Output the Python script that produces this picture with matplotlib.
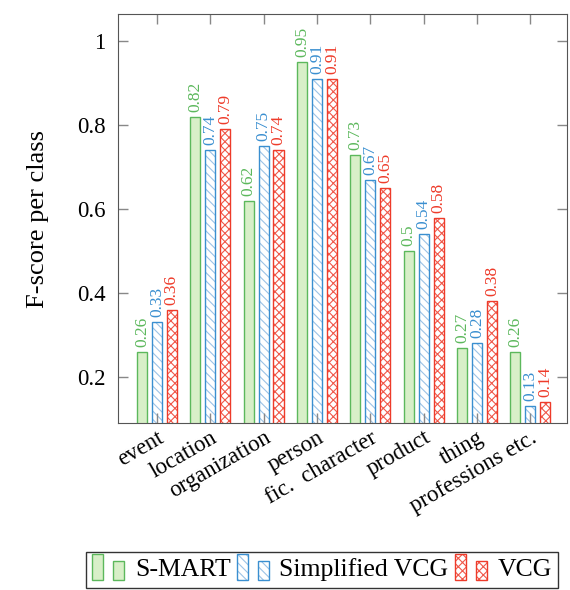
import matplotlib
matplotlib.use("Agg")
import matplotlib.pyplot as plt
import numpy as np
from matplotlib.legend_handler import HandlerBase
from matplotlib.patches import Rectangle

plt.rcParams["font.family"] = ["Liberation Serif", "DejaVu Serif"]
plt.rcParams["hatch.linewidth"] = 0.8

categories = ["event", "location", "organization", "person", "fic.  character",
              "product", "thing", "professions etc."]
smart = [0.26, 0.82, 0.62, 0.95, 0.73, 0.5, 0.27, 0.26]
simplified = [0.33, 0.74, 0.75, 0.91, 0.67, 0.54, 0.28, 0.13]
vcg = [0.36, 0.79, 0.74, 0.91, 0.65, 0.58, 0.38, 0.14]

# name, values, fill, hatch, hatch colour, edge colour
series = [
    ("S-MART", smart, "#d8efc8", None, "#d8efc8", "#5cb85c"),
    ("Simplified VCG", simplified, "white", "\\\\\\\\", "#9cc3e6", "#3a8fd0"),
    ("VCG", vcg, "white", "xxxx", "#f0584a", "#ee3b2a"),
]


class TwoBarHandler(HandlerBase):
    def __init__(self, style):
        super().__init__()
        self.style = style

    def create_artists(self, legend, orig, xd, yd, w, h, fontsize, trans):
        fill, hatch, hcol, ecol = self.style
        arts = []
        for x0, bh in [(0, h * 1.45), (w * 0.58, h * 1.05)]:
            for kw in (dict(facecolor=fill, edgecolor=hcol, hatch=hatch, linewidth=0),
                       dict(facecolor="none", edgecolor=ecol, linewidth=1)):
                arts.append(Rectangle((xd + x0, yd - h * 0.2), w * 0.3, bh,
                                      transform=trans, **kw))
        return arts


fig = plt.figure(figsize=(5.7, 5.9), dpi=100)
ax = fig.add_axes([0.207, 0.283, 0.788, 0.693])

x = np.arange(len(categories))
off = 0.28
width = 0.19
handles = []
hmap = {}
for i, (name, vals, fill, hatch, hcol, ecol) in enumerate(series):
    pos = x + (i - 1) * off
    ax.bar(pos, vals, width, facecolor=fill, edgecolor=hcol, hatch=hatch, linewidth=0)
    bars = ax.bar(pos, vals, width, facecolor="none", edgecolor=ecol, linewidth=1)
    handles.append(bars[0])
    hmap[bars[0]] = TwoBarHandler((fill, hatch, hcol, ecol))
    for p, v in zip(pos, vals):
        ax.text(p, v + 0.012, f"{v:g}", rotation=90, ha="center", va="bottom",
                color=ecol, fontsize=12.5)

ax.set_xlim(-0.73, 7.69)
ax.set_ylim(0.09, 1.065)
ax.set_yticks([0.2, 0.4, 0.6, 0.8, 1.0])
ax.set_yticklabels(["0.2", "0.4", "0.6", "0.8", "1"], fontsize=16.5)
ax.set_xticks(x)
ax.set_xticklabels(categories, rotation=30, ha="right", rotation_mode="anchor", fontsize=16.5)
ax.tick_params(direction="in", length=7, color="#888888", top=True, right=True, width=1)
ax.tick_params(axis="x", pad=3)
ax.tick_params(axis="y", pad=9)
for s in ax.spines.values():
    s.set_color("#555555")
ax.set_ylabel("F-score per class", fontsize=19, labelpad=20)

fig.legend(handles, [s[0] for s in series], loc="center", bbox_to_anchor=(0.565, 0.034),
           ncol=3, fontsize=18.5, frameon=True, fancybox=False, edgecolor="black",
           handler_map=hmap, handlelength=1.4, handletextpad=0.25, columnspacing=0.25,
           borderpad=0.25, borderaxespad=0)

fig.savefig("out.png", dpi=100)
